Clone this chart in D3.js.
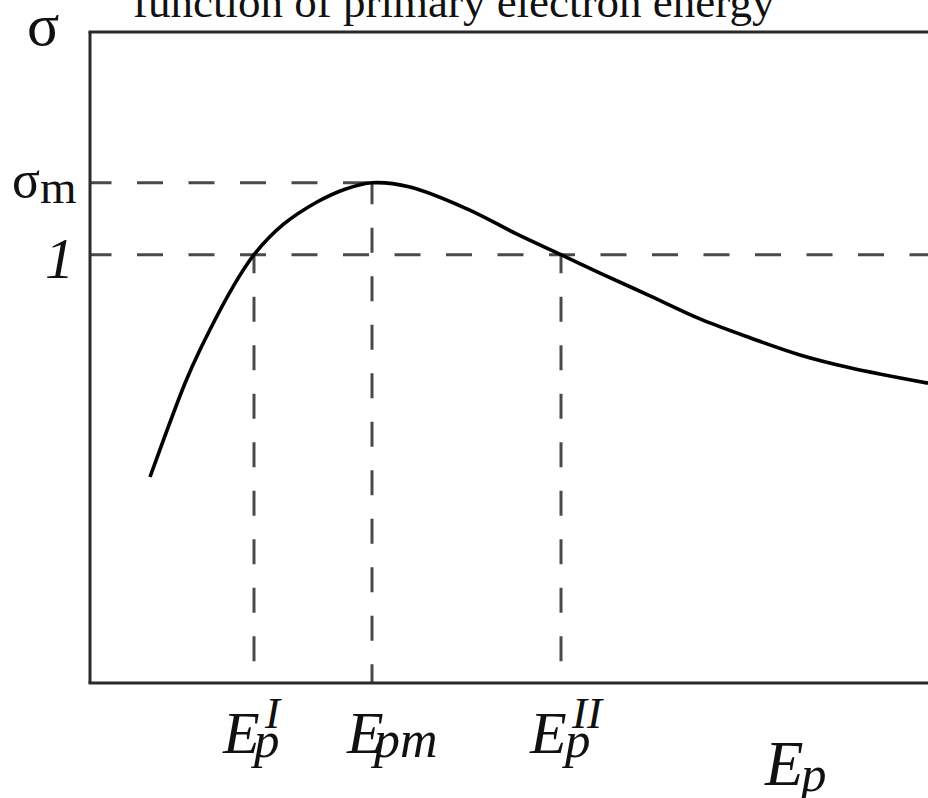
<!DOCTYPE html>
<html>
<head>
<meta charset="utf-8">
<script src="https://cdn.jsdelivr.net/npm/d3@7/dist/d3.min.js"></script>
<style>
  html, body { margin: 0; padding: 0; background: #fff; }
  svg { display: block; }
  text { font-family: "Liberation Serif", "Times New Roman", serif; fill: #111; }
</style>
</head>
<body>
<svg id="chart" width="928" height="798"></svg>
<script>
// Secondary emission yield sigma versus primary electron energy Ep (arbitrary units)
const energy = [0.60, 0.95, 1.10, 1.43, 1.64, 1.93, 2.27, 2.55, 2.82, 3.20, 3.77, 4.27, 4.71, 5.10, 5.60, 6.10, 6.60, 7.10, 7.60, 8.38];
const sigma  = [0.481, 0.700, 0.778, 0.925, 1.000, 1.070, 1.123, 1.153, 1.168, 1.158, 1.107, 1.048, 1.000, 0.957, 0.904, 0.850, 0.806, 0.766, 0.736, 0.700];

// Characteristic energies: first crossover, maximum, second crossover
const markerEnergies = [1.64, 2.82, 4.71];
const markerLevels   = [1.0, 1.168, 1.0];
const markerBase     = ["E", "E", "E"];
const markerSub      = ["p", "pm", "p"];
const markerSup      = ["I", "", "II"];

const sigmaMax = 1.168;
const unity = 1.0;

const titleText = "function of primary electron energy";

const svg = d3.select("#chart");

const x = d3.scaleLinear().domain([0, 8.38]).range([90, 928]);
const y = d3.scaleLinear().domain([0, 1.52]).range([683, 32]);

// Dashed guide lines
const dashColor = "#4a4a4a";
const dashWidth = 3;

// sigma_m level, from the axis to the peak
svg.append("line")
  .attr("x1", x(0)).attr("x2", x(markerEnergies[1]))
  .attr("y1", y(sigmaMax)).attr("y2", y(sigmaMax))
  .attr("stroke", dashColor).attr("stroke-width", dashWidth)
  .attr("stroke-dasharray", "26 25.5").attr("stroke-dashoffset", 4.5);

// unity level across the full plot
svg.append("line")
  .attr("x1", x(0)).attr("x2", x(8.38))
  .attr("y1", y(unity)).attr("y2", y(unity))
  .attr("stroke", dashColor).attr("stroke-width", dashWidth)
  .attr("stroke-dasharray", "26 25.5").attr("stroke-dashoffset", 4.5);

// Vertical drops to the energy axis
svg.selectAll("line.drop")
  .data(markerEnergies)
  .join("line")
  .attr("class", "drop")
  .attr("x1", d => x(d)).attr("x2", d => x(d))
  .attr("y1", (d, i) => y(markerLevels[i])).attr("y2", y(0))
  .attr("stroke", dashColor).attr("stroke-width", dashWidth)
  .attr("stroke-dasharray", "25 23.5")
  .attr("stroke-dashoffset", (d, i) => i === 1 ? 3.5 : 6.5);

// Yield curve
const line = d3.line()
  .x((d, i) => x(energy[i]))
  .y(d => y(d))
  .curve(d3.curveCatmullRom.alpha(0.5));

svg.append("path")
  .datum(sigma)
  .attr("d", line)
  .attr("fill", "none")
  .attr("stroke", "#000")
  .attr("stroke-width", 3.6)
  .attr("stroke-linejoin", "round")
  .attr("stroke-linecap", "butt");

// Frame: left axis, bottom axis, top border
const axisColor = "#2a2a2a";
svg.append("line")
  .attr("x1", x(0)).attr("x2", x(0)).attr("y1", y(1.52)).attr("y2", y(0))
  .attr("stroke", axisColor).attr("stroke-width", 3);
svg.append("line")
  .attr("x1", x(0) - 1.5).attr("x2", x(8.38)).attr("y1", y(0)).attr("y2", y(0))
  .attr("stroke", axisColor).attr("stroke-width", 3);
svg.append("line")
  .attr("x1", x(0) - 1.5).attr("x2", x(8.38)).attr("y1", y(1.52)).attr("y2", y(1.52))
  .attr("stroke", axisColor).attr("stroke-width", 3);

// Title (partly above the page top)
svg.append("text")
  .attr("x", 133).attr("y", 17)
  .attr("font-size", 45)
  .text(titleText);

// Vertical axis name
svg.append("text")
  .attr("x", 27).attr("y", 45)
  .attr("font-size", 60)
  .text("σ");

// Level labels
const sm = svg.append("text")
  .attr("x", 12).attr("y", y(sigmaMax) + 14);
sm.append("tspan").attr("font-size", 52).text("σ");
sm.append("tspan").attr("font-size", 47).attr("dy", 6).text("m");

svg.append("text")
  .attr("x", 45).attr("y", y(unity) + 23)
  .attr("font-size", 58)
  .attr("font-style", "italic")
  .text("1");

// Energy labels below the axis
const labelShift = [-31, -25, -31];
const subShift = [31, 27, 35];
const subSize = [51, 52, 51];
const supShift = [42, 0, 42];
markerEnergies.forEach((e, i) => {
  const x0 = x(e) + labelShift[i];
  svg.append("text")
    .attr("x", x0).attr("y", 753)
    .attr("font-size", 60).attr("font-style", "italic")
    .text(markerBase[i]);
  svg.append("text")
    .attr("x", x0 + subShift[i]).attr("y", 757)
    .attr("font-size", subSize[i]).attr("font-style", "italic")
    .text(markerSub[i]);
  if (markerSup[i]) {
    svg.append("text")
      .attr("x", x0 + supShift[i]).attr("y", 728)
      .attr("font-size", 45).attr("font-style", "italic")
      .text(markerSup[i]);
  }
});

// Horizontal axis name
svg.append("text")
  .attr("x", 765).attr("y", 785)
  .attr("font-size", 63).attr("font-style", "italic")
  .text("E");
svg.append("text")
  .attr("x", 801).attr("y", 791)
  .attr("font-size", 51).attr("font-style", "italic")
  .text("p");
</script>
</body>
</html>
